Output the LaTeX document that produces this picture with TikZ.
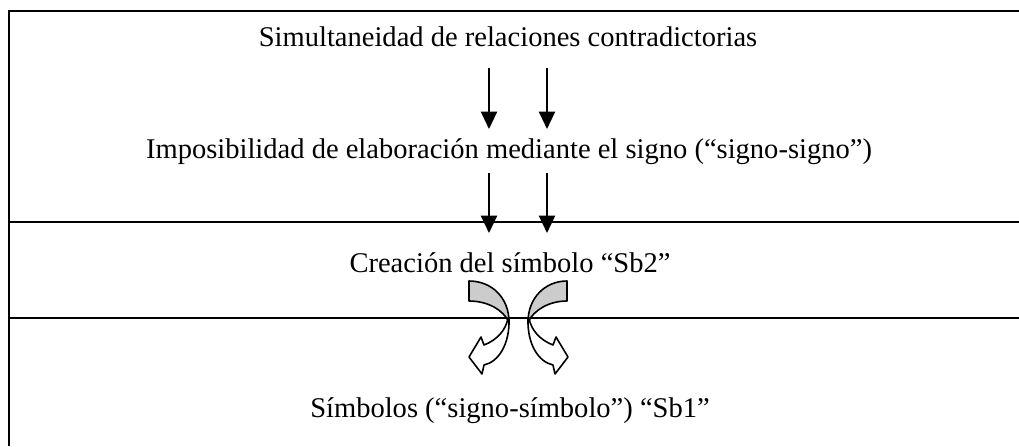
\documentclass[tikz,border=0pt]{standalone}
\usepackage{fontspec}
\setmainfont{Liberation Serif}
\usetikzlibrary{arrows.meta}
\tikzset{
  lbl/.style={anchor=base, inner sep=0pt, font=\fontsize{21.4}{25}\selectfont},
  rule/.style={line width=1.5pt},
  downarr/.style={line width=1.6pt, -{Triangle[length=13pt,width=12pt]}},
  backface/.style={line width=1.2pt, fill=black!20, line join=round},
  frontface/.style={line width=1.2pt, fill=white, line join=round}
}
\begin{document}
\begin{tikzpicture}[x=0.75pt, y=-0.75pt]
\useasboundingbox (0,0) rectangle (1019,446);
% frame
\coordinate (tl) at (8.5,11);
\coordinate (tr) at (1019,11);
\coordinate (bl) at (8.5,446);
\coordinate (m1l) at (8.5,222);
\coordinate (m1r) at (1019,222);
\coordinate (m2l) at (8.5,318);
\coordinate (m2r) at (1019,318);
\draw[rule] (bl) -- (tl) -- (tr);
\draw[rule] (m1l) -- (m1r);
\draw[rule] (m2l) -- (m2r);
% texts
\node[lbl] (t1) at (508,46) {Simultaneidad de relaciones contradictorias};
\node[lbl] (t2) at (509,158) {Imposibilidad de elaboración mediante el signo (“signo-signo”)};
\node[lbl] (t3) at (510,272) {Creación del símbolo “Sb2”};
\node[lbl] (t4) at (510,417) {Símbolos (“signo-símbolo”) “Sb1”};
% straight arrows
\coordinate (a1s) at (489,68);  \coordinate (a1e) at (489,129);
\coordinate (a2s) at (547,68);  \coordinate (a2e) at (547,129);
\coordinate (a3s) at (489,173); \coordinate (a3e) at (489,233);
\coordinate (a4s) at (547,173); \coordinate (a4e) at (547,233);
\draw[downarr] (a1s) -- (a1e);
\draw[downarr] (a2s) -- (a2e);
\draw[downarr] (a3s) -- (a3e);
\draw[downarr] (a4s) -- (a4e);
% curved arrows (left)
\draw[backface] (469,281) .. controls (492,281) and (509,298) .. (509,322)
   .. controls (503,310) and (488,301) .. (469,301) -- cycle;
\draw[frontface] (509,318) .. controls (510,345) and (498,362) .. (484,365)
   -- (482,374) -- (469,357) -- (481,337) -- (484,345)
   .. controls (497,340) and (506,330) .. (508,318) -- cycle;
% curved arrows (right, mirrored)
\draw[backface] (567,281) .. controls (545,281) and (528,298) .. (528,322)
   .. controls (534,310) and (549,301) .. (567,301) -- cycle;
\draw[frontface] (528,318) .. controls (527,345) and (539,362) .. (553,365)
   -- (555,374) -- (568,357) -- (556,337) -- (553,345)
   .. controls (540,340) and (531,330) .. (529,318) -- cycle;
\end{tikzpicture}
\end{document}
